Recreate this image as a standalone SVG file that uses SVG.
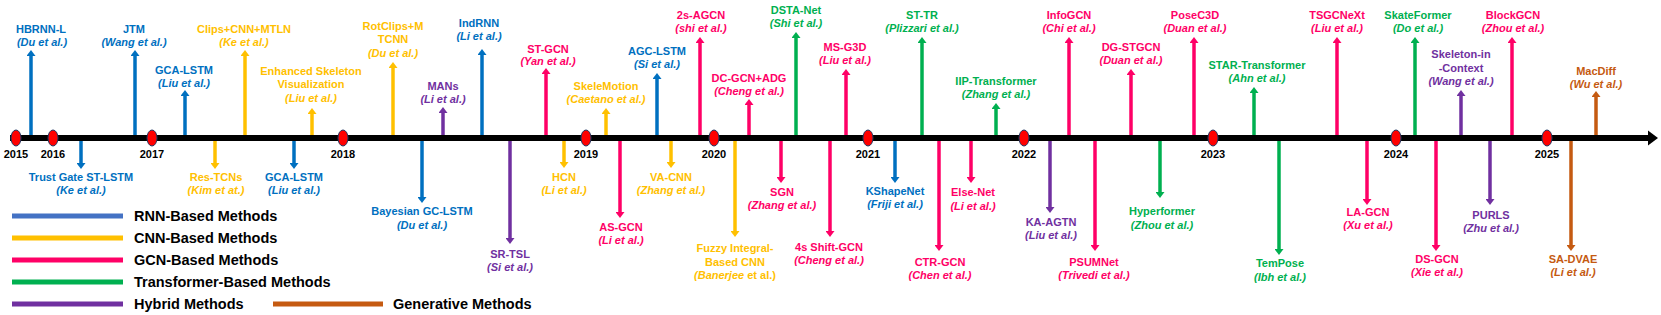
<svg xmlns="http://www.w3.org/2000/svg" width="1661" height="315" viewBox="0 0 1661 315">
<style>
text{font-family:"Liberation Sans",Arial,sans-serif;font-weight:bold;font-size:11px;text-anchor:middle}
.i{font-style:italic}
.yr{fill:#000}
.lg{font-size:14.5px;text-anchor:start;fill:#000}
.rnn{fill:#0070C0}.cnn{fill:#FFC000}.gcn{fill:#FF0066}.trf{fill:#00B050}.hyb{fill:#7030A0}.gen{fill:#C55A11}
.c{stroke-width:3.5;fill:none}
.cr{stroke:#0070C0;marker-end:url(#mr)}.cc{stroke:#FFC000;marker-end:url(#mc)}.cg{stroke:#FF0066;marker-end:url(#mg)}
.ct{stroke:#00B050;marker-end:url(#mt)}.ch{stroke:#7030A0;marker-end:url(#mh)}.co{stroke:#C55A11;marker-end:url(#mo)}
.leg{stroke-width:5}
.yd{fill:#FF0000;stroke:#1F3864;stroke-width:1}
</style>
<defs>
<marker id="mr" markerUnits="userSpaceOnUse" viewBox="0 -4.5 6 9" refX="0" refY="0" markerWidth="6" markerHeight="9" orient="auto"><path d="M0,-4.5L6,0L0,4.5z" fill="#0070C0"/></marker>
<marker id="mc" markerUnits="userSpaceOnUse" viewBox="0 -4.5 6 9" refX="0" refY="0" markerWidth="6" markerHeight="9" orient="auto"><path d="M0,-4.5L6,0L0,4.5z" fill="#FFC000"/></marker>
<marker id="mg" markerUnits="userSpaceOnUse" viewBox="0 -4.5 6 9" refX="0" refY="0" markerWidth="6" markerHeight="9" orient="auto"><path d="M0,-4.5L6,0L0,4.5z" fill="#FF0066"/></marker>
<marker id="mt" markerUnits="userSpaceOnUse" viewBox="0 -4.5 6 9" refX="0" refY="0" markerWidth="6" markerHeight="9" orient="auto"><path d="M0,-4.5L6,0L0,4.5z" fill="#00B050"/></marker>
<marker id="mh" markerUnits="userSpaceOnUse" viewBox="0 -4.5 6 9" refX="0" refY="0" markerWidth="6" markerHeight="9" orient="auto"><path d="M0,-4.5L6,0L0,4.5z" fill="#7030A0"/></marker>
<marker id="mo" markerUnits="userSpaceOnUse" viewBox="0 -4.5 6 9" refX="0" refY="0" markerWidth="6" markerHeight="9" orient="auto"><path d="M0,-4.5L6,0L0,4.5z" fill="#C55A11"/></marker>
</defs>
<rect width="1661" height="315" fill="#fff"/>

<g id="connectors">
<!-- up arrows -->
<line class="c cr" x1="31" y1="138" x2="31" y2="56"/>
<line class="c cr" x1="135" y1="138" x2="135" y2="56"/>
<line class="c cr" x1="185" y1="138" x2="185" y2="96"/>
<line class="c cc" x1="245" y1="138" x2="245" y2="56"/>
<line class="c cc" x1="312" y1="138" x2="312" y2="114"/>
<line class="c cc" x1="393" y1="138" x2="393" y2="68"/>
<line class="c ch" x1="443" y1="138" x2="443" y2="113"/>
<line class="c cr" x1="482" y1="138" x2="482" y2="55"/>
<line class="c cg" x1="546" y1="138" x2="546" y2="74"/>
<line class="c cc" x1="606" y1="138" x2="606" y2="114"/>
<line class="c cr" x1="657" y1="138" x2="657" y2="79"/>
<line class="c cg" x1="700" y1="138" x2="700" y2="43"/>
<line class="c cg" x1="749" y1="138" x2="749" y2="105"/>
<line class="c ct" x1="796" y1="138" x2="796" y2="38"/>
<line class="c cg" x1="846" y1="138" x2="846" y2="75"/>
<line class="c ct" x1="922" y1="138" x2="922" y2="43"/>
<line class="c ct" x1="996" y1="138" x2="996" y2="109"/>
<line class="c cg" x1="1069" y1="138" x2="1069" y2="43"/>
<line class="c cg" x1="1131" y1="138" x2="1131" y2="75"/>
<line class="c cg" x1="1194" y1="138" x2="1194" y2="43"/>
<line class="c ct" x1="1254" y1="138" x2="1254" y2="93"/>
<line class="c cg" x1="1337" y1="138" x2="1337" y2="43"/>
<line class="c ct" x1="1415" y1="138" x2="1415" y2="43"/>
<line class="c ch" x1="1461" y1="138" x2="1461" y2="96"/>
<line class="c cg" x1="1512" y1="138" x2="1512" y2="43"/>
<line class="c co" x1="1596" y1="138" x2="1596" y2="97"/>
<!-- down arrows -->
<line class="c cr" x1="81" y1="138" x2="81" y2="163"/>
<line class="c cc" x1="215" y1="138" x2="215" y2="163"/>
<line class="c cr" x1="294" y1="138" x2="294" y2="163"/>
<line class="c cr" x1="422" y1="138" x2="422" y2="197"/>
<line class="c ch" x1="510" y1="138" x2="510" y2="238"/>
<line class="c cc" x1="564" y1="138" x2="564" y2="162"/>
<line class="c cg" x1="620" y1="138" x2="620" y2="212"/>
<line class="c cc" x1="671" y1="138" x2="671" y2="162"/>
<line class="c cc" x1="735" y1="138" x2="735" y2="231"/>
<line class="c cg" x1="781" y1="138" x2="781" y2="177"/>
<line class="c cg" x1="830" y1="138" x2="830" y2="231"/>
<line class="c cr" x1="895" y1="138" x2="895" y2="177"/>
<line class="c cg" x1="939" y1="138" x2="939" y2="245"/>
<line class="c cg" x1="971" y1="138" x2="971" y2="177"/>
<line class="c ch" x1="1050" y1="138" x2="1050" y2="207"/>
<line class="c cg" x1="1095" y1="138" x2="1095" y2="245"/>
<line class="c ct" x1="1160" y1="138" x2="1160" y2="192"/>
<line class="c ct" x1="1279" y1="138" x2="1279" y2="249"/>
<line class="c cg" x1="1367" y1="138" x2="1367" y2="199"/>
<line class="c cg" x1="1436" y1="138" x2="1436" y2="245"/>
<line class="c ch" x1="1490" y1="138" x2="1490" y2="199"/>
<line class="c co" x1="1571" y1="138" x2="1571" y2="245"/>
</g>

<g id="axis">
<line x1="10" y1="138" x2="1650" y2="138" stroke="#000" stroke-width="6"/>
<polygon points="1648,130.5 1658,138 1648,145.5" fill="#000"/>
<ellipse class="yd" cx="16" cy="138" rx="5" ry="8"/>
<ellipse class="yd" cx="53" cy="138" rx="5" ry="8"/>
<ellipse class="yd" cx="152" cy="138" rx="5" ry="8"/>
<ellipse class="yd" cx="343" cy="138" rx="5" ry="8"/>
<ellipse class="yd" cx="586" cy="138" rx="5" ry="8"/>
<ellipse class="yd" cx="714" cy="138" rx="5" ry="8"/>
<ellipse class="yd" cx="868" cy="138" rx="5" ry="8"/>
<ellipse class="yd" cx="1024" cy="138" rx="5" ry="8"/>
<ellipse class="yd" cx="1213" cy="138" rx="5" ry="8"/>
<ellipse class="yd" cx="1396" cy="138" rx="5" ry="8"/>
<ellipse class="yd" cx="1547" cy="138" rx="5" ry="8"/>
<text class="yr" x="16" y="158">2015</text>
<text class="yr" x="53" y="158">2016</text>
<text class="yr" x="152" y="158">2017</text>
<text class="yr" x="343" y="158">2018</text>
<text class="yr" x="586" y="158">2019</text>
<text class="yr" x="714" y="158">2020</text>
<text class="yr" x="868" y="158">2021</text>
<text class="yr" x="1024" y="158">2022</text>
<text class="yr" x="1213" y="158">2023</text>
<text class="yr" x="1396" y="158">2024</text>
<text class="yr" x="1547" y="158">2025</text>
</g>

<!-- up nodes -->
<g id="hbrnn" class="rnn"><text x="41" y="33">HBRNN-L</text><text class="i" x="42" y="46">(Du et al.)</text></g>
<g id="jtm" class="rnn"><text x="134" y="33">JTM</text><text class="i" x="134" y="46">(Wang et al.)</text></g>
<g id="gcalstm-up" class="rnn"><text x="184" y="74">GCA-LSTM</text><text class="i" x="184" y="87">(Liu et al.)</text></g>
<g id="clips" class="cnn"><text x="244" y="33">Clips+CNN+MTLN</text><text class="i" x="244" y="46">(Ke et al.)</text></g>
<g id="enhanced" class="cnn"><text x="311" y="75">Enhanced Skeleton</text><text x="311" y="88">Visualization</text><text class="i" x="311" y="102">(Liu et al.)</text></g>
<g id="rotclips" class="cnn"><text x="393" y="30">RotClips+M</text><text x="393" y="43">TCNN</text><text class="i" x="393" y="57">(Du  et al.)</text></g>
<g id="mans" class="hyb"><text x="443" y="90">MANs</text><text class="i" x="443" y="103">(Li et al.)</text></g>
<g id="indrnn" class="rnn"><text x="479" y="27">IndRNN</text><text class="i" x="479" y="40">(Li et al.)</text></g>
<g id="stgcn" class="gcn"><text x="548" y="53">ST-GCN</text><text class="i" x="548" y="65">(Yan et al.)</text></g>
<g id="skelemotion" class="cnn"><text x="606" y="90">SkeleMotion</text><text class="i" x="606" y="103">(Caetano et al.)</text></g>
<g id="agclstm" class="rnn"><text x="657" y="55">AGC-LSTM</text><text class="i" x="657" y="68">(Si et al.)</text></g>
<g id="2sagcn" class="gcn"><text x="701" y="19">2s-AGCN</text><text class="i" x="701" y="32">(shi et al.)</text></g>
<g id="dcgcn" class="gcn"><text x="749" y="82">DC-GCN+ADG</text><text class="i" x="749" y="95">(Cheng et al.)</text></g>
<g id="dstanet" class="trf"><text x="796" y="14">DSTA-Net</text><text class="i" x="796" y="27">(Shi et al.)</text></g>
<g id="msg3d" class="gcn"><text x="845" y="51">MS-G3D</text><text class="i" x="845" y="64">(Liu et al.)</text></g>
<g id="sttr" class="trf"><text x="922" y="19">ST-TR</text><text class="i" x="922" y="32">(Plizzari et al.)</text></g>
<g id="iip" class="trf"><text x="996" y="85">IIP-Transformer</text><text class="i" x="996" y="98">(Zhang et al.)</text></g>
<g id="infogcn" class="gcn"><text x="1069" y="19">InfoGCN</text><text class="i" x="1069" y="32">(Chi et al.)</text></g>
<g id="dgstgcn" class="gcn"><text x="1131" y="51">DG-STGCN</text><text class="i" x="1131" y="64">(Duan et al.)</text></g>
<g id="posec3d" class="gcn"><text x="1195" y="19">PoseC3D</text><text class="i" x="1195" y="32">(Duan et al.)</text></g>
<g id="star" class="trf"><text x="1257" y="69">STAR-Transformer</text><text class="i" x="1257" y="82">(Ahn et al.)</text></g>
<g id="tsgcnext" class="gcn"><text x="1337" y="19">TSGCNeXt</text><text class="i" x="1337" y="32">(Liu et al.)</text></g>
<g id="skateformer" class="trf"><text x="1418" y="19">SkateFormer</text><text class="i" x="1418" y="32">(Do et al.)</text></g>
<g id="skelctx" class="hyb"><text x="1461" y="58">Skeleton-in</text><text x="1461" y="72">-Context</text><text class="i" x="1461" y="85">(Wang et al.)</text></g>
<g id="blockgcn" class="gcn"><text x="1513" y="19">BlockGCN</text><text class="i" x="1513" y="32">(Zhou  et al.)</text></g>
<g id="macdiff" class="gen"><text x="1596" y="75">MacDiff</text><text class="i" x="1596" y="88">(Wu  et al.)</text></g>

<!-- down nodes -->
<g id="trustgate" class="rnn"><text x="81" y="181">Trust Gate ST-LSTM</text><text class="i" x="81" y="194">(Ke et al.)</text></g>
<g id="restcn" class="cnn"><text x="216" y="181">Res-TCNs</text><text class="i" x="216" y="194">(Kim et at.)</text></g>
<g id="gcalstm-down" class="rnn"><text x="294" y="181">GCA-LSTM</text><text class="i" x="294" y="194">(Liu et al.)</text></g>
<g id="bayesian" class="rnn"><text x="422" y="215">Bayesian GC-LSTM</text><text class="i" x="422" y="229">(Du et al.)</text></g>
<g id="srtsl" class="hyb"><text x="510" y="258">SR-TSL</text><text class="i" x="510" y="271">(Si et al.)</text></g>
<g id="hcn" class="cnn"><text x="564" y="181">HCN</text><text class="i" x="564" y="194">(Li et al.)</text></g>
<g id="asgcn" class="gcn"><text x="621" y="231">AS-GCN</text><text class="i" x="621" y="244">(Li et al.)</text></g>
<g id="vacnn" class="cnn"><text x="671" y="181">VA-CNN</text><text class="i" x="671" y="194">(Zhang et al.)</text></g>
<g id="fuzzy" class="cnn"><text x="735" y="252">Fuzzy Integral-</text><text x="735" y="266">Based CNN</text><text x="735" y="279"><tspan class="i">(Banerjee</tspan> et al.)</text></g>
<g id="sgn" class="gcn"><text x="782" y="196">SGN</text><text class="i" x="782" y="209">(Zhang et al.)</text></g>
<g id="shiftgcn" class="gcn"><text x="829" y="251">4s Shift-GCN</text><text class="i" x="829" y="264">(Cheng et al.)</text></g>
<g id="kshapenet" class="rnn"><text x="895" y="195">KShapeNet</text><text class="i" x="895" y="208">(Friji et al.)</text></g>
<g id="ctrgcn" class="gcn"><text x="940" y="266">CTR-GCN</text><text class="i" x="940" y="279">(Chen et al.)</text></g>
<g id="elsenet" class="gcn"><text x="973" y="196">Else-Net</text><text class="i" x="973" y="210">(Li et al.)</text></g>
<g id="kaagtn" class="hyb"><text x="1051" y="226">KA-AGTN</text><text class="i" x="1051" y="239">(Liu et al.)</text></g>
<g id="psumnet" class="gcn"><text x="1094" y="266">PSUMNet</text><text class="i" x="1094" y="279">(Trivedi et al.)</text></g>
<g id="hyperformer" class="trf"><text x="1162" y="215">Hyperformer</text><text class="i" x="1162" y="229">(Zhou et al.)</text></g>
<g id="tempose" class="trf"><text x="1280" y="267">TemPose</text><text class="i" x="1280" y="281">(Ibh et al.)</text></g>
<g id="lagcn" class="gcn"><text x="1368" y="216">LA-GCN</text><text class="i" x="1368" y="229">(Xu et al.)</text></g>
<g id="dsgcn" class="gcn"><text x="1437" y="263">DS-GCN</text><text class="i" x="1437" y="276">(Xie et al.)</text></g>
<g id="purls" class="hyb"><text x="1491" y="219">PURLS</text><text class="i" x="1491" y="232">(Zhu et al.)</text></g>
<g id="sadvae" class="gen"><text x="1573" y="263">SA-DVAE</text><text class="i" x="1573" y="276">(Li et al.)</text></g>

<g id="legend">
<line class="leg" x1="12" y1="216" x2="123" y2="216" stroke="#4472C4"/>
<text class="lg" x="134" y="221">RNN-Based Methods</text>
<line class="leg" x1="12" y1="238" x2="123" y2="238" stroke="#FFC000"/>
<text class="lg" x="134" y="243">CNN-Based Methods</text>
<line class="leg" x1="12" y1="260" x2="123" y2="260" stroke="#FF0066"/>
<text class="lg" x="134" y="265">GCN-Based Methods</text>
<line class="leg" x1="12" y1="282" x2="123" y2="282" stroke="#00B050"/>
<text class="lg" x="134" y="287">Transformer-Based Methods</text>
<line class="leg" x1="12" y1="304" x2="123" y2="304" stroke="#7030A0"/>
<text class="lg" x="134" y="309">Hybrid Methods</text>
<line class="leg" x1="273" y1="304" x2="383" y2="304" stroke="#C55A11"/>
<text class="lg" x="393" y="309">Generative Methods</text>
</g>
</svg>
